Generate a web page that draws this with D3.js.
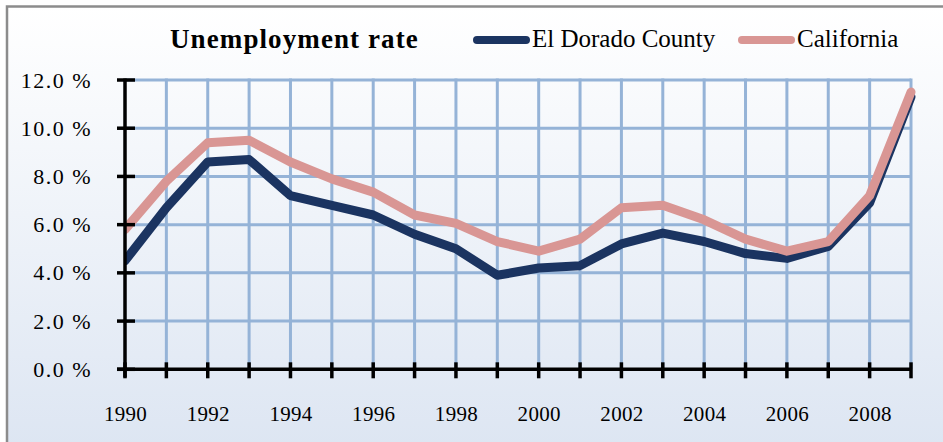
<!DOCTYPE html>
<html lang="en">
<head>
<meta charset="UTF-8">
<title>Unemployment rate</title>
<style>
  html, body { margin: 0; padding: 0; background: #fff; }
  svg { display: block; font-family: "Liberation Serif", "DejaVu Serif", serif; }
</style>
</head>
<body>
<svg width="943" height="442"></svg>
<script src="https://d3js.org/d3.v7.min.js"></script>
<script>
  const years = d3.range(1990, 2010);
  const elDorado = [4.5, 6.7, 8.6, 8.7, 7.2, 6.8, 6.4, 5.6, 5.0, 3.9,
                    4.2, 4.3, 5.2, 5.65, 5.3, 4.8, 4.6, 5.1, 6.9, 11.3];
  const california = [5.8, 7.8, 9.4, 9.5, 8.6, 7.9, 7.35, 6.4, 6.05, 5.3,
                      4.9, 5.4, 6.7, 6.8, 6.2, 5.4, 4.9, 5.3, 7.2, 11.5];
  const yTicks = [0, 2, 4, 6, 8, 10, 12];
  const xLabels = [1990, 1992, 1994, 1996, 1998, 2000, 2002, 2004, 2006, 2008];

  const series = [
    { name: "El Dorado County", values: elDorado, color: "#1b3461" },
    { name: "California", values: california, color: "#d99694" }
  ];

  const svg = d3.select("svg");
  const W = 943, H = 442;
  const m = { left: 125, right: 911, top: 80, bottom: 369.3 };

  // background gradient
  const defs = svg.append("defs");
  const grad = defs.append("linearGradient")
    .attr("id", "bg").attr("x1", 0).attr("y1", 0).attr("x2", 0).attr("y2", 1);
  grad.append("stop").attr("offset", "0%").attr("stop-color", "#ffffff");
  grad.append("stop").attr("offset", "100%").attr("stop-color", "#dce5f2");

  defs.append("clipPath").attr("id", "plotclip")
    .append("rect").attr("x", m.left).attr("y", 0).attr("width", W - m.left).attr("height", H);

  svg.append("rect").attr("x", 0).attr("y", 0).attr("width", W).attr("height", H).attr("fill", "#fff");
  svg.append("rect")
    .attr("x", 7).attr("y", 6.5).attr("width", W + 10).attr("height", H + 10)
    .attr("fill", "url(#bg)")
    .attr("stroke", "#8c8c8c").attr("stroke-width", 2.5);

  const x = d3.scaleLinear().domain([1990, 2009]).range([m.left, m.right]);
  const y = d3.scaleLinear().domain([0, 12]).range([m.bottom, m.top]);

  // grid
  const grid = svg.append("g").attr("stroke", "#95b3d7").attr("stroke-width", 3);
  grid.selectAll("line.h").data(yTicks.filter(d => d > 0)).enter().append("line")
    .attr("x1", m.left).attr("x2", m.right)
    .attr("y1", d => y(d)).attr("y2", d => y(d));
  grid.selectAll("line.v").data(years.slice(1)).enter().append("line")
    .attr("x1", d => x(d)).attr("x2", d => x(d))
    .attr("y1", y(12) - 1.5).attr("y2", m.bottom);

  // lines
  const line = d3.line()
    .x((d, i) => x(years[i]))
    .y(d => y(d));
  const lines = svg.append("g").attr("clip-path", "url(#plotclip)");
  series.forEach(s => {
    lines.append("path")
      .attr("d", line(s.values))
      .attr("fill", "none")
      .attr("stroke", s.color)
      .attr("stroke-width", 9)
      .attr("stroke-linejoin", "round")
      .attr("stroke-linecap", "round");
  });

  // y axis
  const yAxis = svg.append("g").attr("transform", `translate(${m.left},0)`)
    .call(d3.axisLeft(y).tickValues(yTicks).tickSize(0).tickPadding(33)
      .tickFormat(d => d3.format(".1f")(d) + " %"));
  yAxis.select(".domain").remove();
  yAxis.selectAll("text").attr("font-size", 22).attr("fill", "#000")
    .attr("letter-spacing", 1.5)
    .attr("font-family", "Liberation Serif, serif");
  yAxis.append("line").attr("x1", 0).attr("x2", 0).attr("y1", m.top - 1.5).attr("y2", m.bottom + 8)
    .attr("stroke", "#000").attr("stroke-width", 3.5);
  yAxis.selectAll("line.tk").data(yTicks).enter().append("line")
    .attr("x1", -8).attr("x2", 10)
    .attr("y1", d => y(d)).attr("y2", d => y(d))
    .attr("stroke", "#000").attr("stroke-width", 3.5);

  // x axis
  const xAxis = svg.append("g").attr("transform", `translate(0,${m.bottom})`)
    .call(d3.axisBottom(x).tickValues(xLabels).tickSize(0).tickPadding(37)
      .tickFormat(d3.format("d")));
  xAxis.select(".domain").remove();
  xAxis.selectAll("text").attr("font-size", 21).attr("fill", "#000")
    .attr("letter-spacing", 0.3)
    .attr("font-family", "Liberation Serif, serif");
  xAxis.append("line").attr("x1", m.left - 8).attr("x2", m.right)
    .attr("stroke", "#000").attr("stroke-width", 3.5);
  xAxis.selectAll("line.tk").data(years).enter().append("line")
    .attr("x1", d => x(d)).attr("x2", d => x(d))
    .attr("y1", -7).attr("y2", 9)
    .attr("stroke", "#000").attr("stroke-width", 3.5);

  // title
  svg.append("text")
    .attr("x", 170).attr("y", 48)
    .attr("font-size", 27).attr("font-weight", "bold")
    .attr("letter-spacing", 1.1)
    .text("Unemployment rate");

  // legend
  const legendPos = [{ x1: 473, x2: 530, tx: 532 }, { x1: 738, x2: 795, tx: 797 }];
  series.forEach((s, i) => {
    const p = legendPos[i];
    svg.append("line")
      .attr("x1", p.x1 + 4).attr("x2", p.x2 - 4).attr("y1", 40).attr("y2", 40)
      .attr("stroke", s.color).attr("stroke-width", 8).attr("stroke-linecap", "round");
    svg.append("text")
      .attr("x", p.tx).attr("y", 47)
      .attr("font-size", 25)
      .text(s.name);
  });
</script>
</body>
</html>
